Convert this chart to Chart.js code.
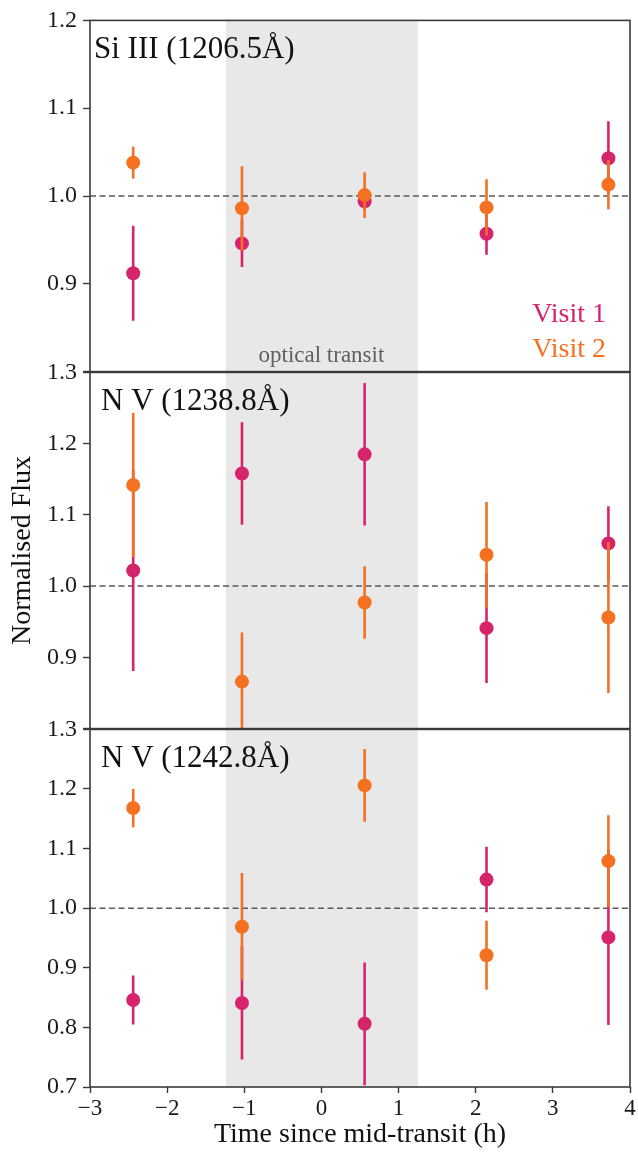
<!DOCTYPE html>
<html>
<head>
<meta charset="utf-8">
<script src="https://cdn.jsdelivr.net/npm/chart.js@4.4.1/dist/chart.umd.min.js"></script>
<style>
  html, body { margin: 0; padding: 0; background: #fff; }
  #wrap { position: relative; width: 638px; height: 1154px; overflow: hidden; }
  #wrap canvas { position: absolute; left: 0; }
</style>
</head>
<body>
<div id="wrap">
  <canvas id="panelSi" width="638" height="392" style="top:0px"></canvas>
  <canvas id="panelNV1" width="638" height="397" style="top:352px"></canvas>
  <canvas id="panelNV2" width="638" height="445" style="top:709px"></canvas>
</div>
<script>
const SERIF = "'Liberation Serif', 'Times New Roman', serif";
const VISIT1_COLOR = 'rgb(214, 36, 108)';
const VISIT2_COLOR = 'rgb(243, 113, 33)';

// observation times (h from mid-transit) and the optical transit window
const times = [-2.44, -1.03, 0.56, 2.14, 3.72];
const transitWindow = [-1.24, 1.25];
const xTicks = [-3, -2, -1, 0, 1, 2, 3, 4];

// Si III 1206.5
const siVisit1 = [0.912, 0.946, 0.994, 0.957, 1.043];
const siVisit1Err = [0.054, 0.027, 0.010, 0.024, 0.042];
const siVisit2 = [1.038, 0.986, 1.001, 0.987, 1.013];
const siVisit2Err = [0.018, 0.048, 0.026, 0.032, 0.028];

// N V 1238.8
const nv1Visit1 = [1.022, 1.158, 1.185, 0.941, 1.060];
const nv1Visit1Err = [0.141, 0.072, 0.100, 0.077, 0.052];
const nv1Visit2 = [1.142, 0.866, 0.977, 1.044, 0.956];
const nv1Visit2Err = [0.101, 0.069, 0.051, 0.074, 0.106];

// N V 1242.8
const nv2Visit1 = [0.846, 0.841, 0.806, 1.048, 0.951];
const nv2Visit1Err = [0.041, 0.095, 0.103, 0.055, 0.147];
const nv2Visit2 = [1.168, 0.969, 1.206, 0.921, 1.079];
const nv2Visit2Err = [0.032, 0.090, 0.061, 0.058, 0.077];

const panelTitles = ['Si III (1206.5Å)', 'N V (1238.8Å)', 'N V (1242.8Å)'];
const panelYMin = [0.8, 0.8, 0.7];
const panelYMax = [1.2, 1.3, 1.3];
const visitLabels = ['Visit 1', 'Visit 2'];

function points(vals, errs) {
    return times.map((t, i) => ({ x: t, y: vals[i], err: errs[i] }));
}

function minusSign(v) {
    return v < 0 ? '\u2212' + Math.abs(v) : String(v);
}

// shading, reference line, error bars, frame and in-panel text
const panelDecor = {
    id: 'panelDecor',
    beforeDatasetsDraw(chart) {
        const { ctx, chartArea: a, scales: { x, y } } = chart;
        ctx.save();
        const x0 = x.getPixelForValue(transitWindow[0]);
        const x1 = x.getPixelForValue(transitWindow[1]);
        ctx.fillStyle = '#e8e8e8';
        ctx.fillRect(x0, a.top, x1 - x0, a.bottom - a.top);

        const y1 = y.getPixelForValue(1);
        ctx.strokeStyle = '#5a5a5a';
        ctx.lineWidth = 1.5;
        ctx.setLineDash([6, 3.5]);
        ctx.beginPath();
        ctx.moveTo(a.left, y1);
        ctx.lineTo(a.right, y1);
        ctx.stroke();
        ctx.restore();
    },
    beforeDatasetDraw(chart, args) {
        const { ctx, chartArea: a, scales: { y } } = chart;
        const ds = chart.data.datasets[args.index];
        ctx.save();
        ctx.beginPath();
        ctx.rect(a.left, a.top, a.right - a.left, a.bottom - a.top);
        ctx.clip();
        ctx.strokeStyle = ds.backgroundColor;
        ctx.lineWidth = 2.6;
        args.meta.data.forEach((pt, i) => {
            const d = ds.data[i];
            ctx.beginPath();
            ctx.moveTo(pt.x, y.getPixelForValue(d.y + d.err));
            ctx.lineTo(pt.x, y.getPixelForValue(d.y - d.err));
            ctx.stroke();
        });
        ctx.restore();
    },
    afterDraw(chart, args, opts) {
        const { ctx, chartArea: a, scales: { x } } = chart;
        ctx.save();
        ctx.strokeStyle = '#3a3a3a';
        ctx.lineWidth = 1.6;
        ctx.strokeRect(a.left, a.top, a.right - a.left, a.bottom - a.top);

        ctx.fillStyle = '#111';
        ctx.font = '31px ' + SERIF;
        ctx.textAlign = 'left';
        ctx.textBaseline = 'alphabetic';
        ctx.fillText(opts.title, a.left + opts.titleInset, a.top + 38);

        if (opts.transitLabel) {
            ctx.fillStyle = '#606060';
            ctx.font = '23px ' + SERIF;
            ctx.textAlign = 'center';
            ctx.fillText(opts.transitLabel, x.getPixelForValue(0), a.bottom - 10);
        }
        if (opts.legend) {
            ctx.font = '28px ' + SERIF;
            ctx.textAlign = 'right';
            visitLabels.forEach((label, i) => {
                ctx.fillStyle = chart.data.datasets[i].backgroundColor;
                ctx.fillText(label, a.right - 24, a.bottom - 50 + i * 35);
            });
        }
        ctx.restore();
    }
};

function makePanel(id, idx, v1, e1, v2, e2, extra) {
    const isBottom = idx === 2;
    const yMin = panelYMin[idx];
    return new Chart(document.getElementById(id), {
        type: 'scatter',
        data: {
            datasets: [
                // visit 2 gets the lower order so it is drawn on top
                { label: visitLabels[0], data: points(v1, e1), backgroundColor: VISIT1_COLOR, order: 1,
                  pointRadius: 7, pointHoverRadius: 7, pointBorderWidth: 0 },
                { label: visitLabels[1], data: points(v2, e2), backgroundColor: VISIT2_COLOR, order: 0,
                  pointRadius: 7, pointHoverRadius: 7, pointBorderWidth: 0 }
            ]
        },
        options: {
            responsive: false,
            animation: false,
            layout: { padding: { top: idx === 0 ? 15 : 20, bottom: isBottom ? 0 : 20, left: 0, right: 8 } },
            plugins: {
                legend: { display: false },
                tooltip: { enabled: false },
                panelDecor: Object.assign({ title: panelTitles[idx], titleInset: idx === 0 ? 4 : 11 }, extra)
            },
            scales: {
                x: {
                    type: 'linear',
                    min: -3,
                    max: 4,
                    display: isBottom,
                    afterBuildTicks: (s) => { s.ticks = xTicks.map(v => ({ value: v })); },
                    afterFit: (s) => { if (isBottom) s.height = 67; },
                    grid: { drawOnChartArea: false, drawTicks: true, tickLength: 6, tickColor: '#3a3a3a', tickWidth: 1.4 },
                    border: { display: false },
                    ticks: {
                        padding: 2,
                        color: '#1a1a1a',
                        font: { family: SERIF, size: 23 },
                        callback: (v) => minusSign(v)
                    },
                    title: {
                        display: true,
                        text: 'Time since mid-transit (h)',
                        color: '#111',
                        font: { family: SERIF, size: 28 },
                        padding: { top: 0, bottom: 3 }
                    }
                },
                y: {
                    type: 'linear',
                    min: yMin,
                    max: panelYMax[idx],
                    afterFit: (s) => { s.width = 90; },
                    grid: { drawOnChartArea: false, drawTicks: true, tickLength: 7, tickColor: '#3a3a3a', tickWidth: 1.4 },
                    border: { display: false },
                    ticks: {
                        stepSize: 0.1,
                        padding: 6,
                        color: '#1a1a1a',
                        font: { family: SERIF, size: 24 },
                        callback: (v) => (!isBottom && Math.abs(v - yMin) < 1e-6) ? '' : v.toFixed(1)
                    },
                    title: {
                        display: idx === 1,
                        text: 'Normalised Flux',
                        color: '#111',
                        font: { family: SERIF, size: 28 },
                        padding: { top: 6, bottom: 0 }
                    }
                }
            }
        },
        plugins: [panelDecor]
    });
}

makePanel('panelSi', 0, siVisit1, siVisit1Err, siVisit2, siVisit2Err,
    { legend: true, transitLabel: 'optical transit' });
makePanel('panelNV1', 1, nv1Visit1, nv1Visit1Err, nv1Visit2, nv1Visit2Err, {});
makePanel('panelNV2', 2, nv2Visit1, nv2Visit1Err, nv2Visit2, nv2Visit2Err, {});
</script>
</body>
</html>
